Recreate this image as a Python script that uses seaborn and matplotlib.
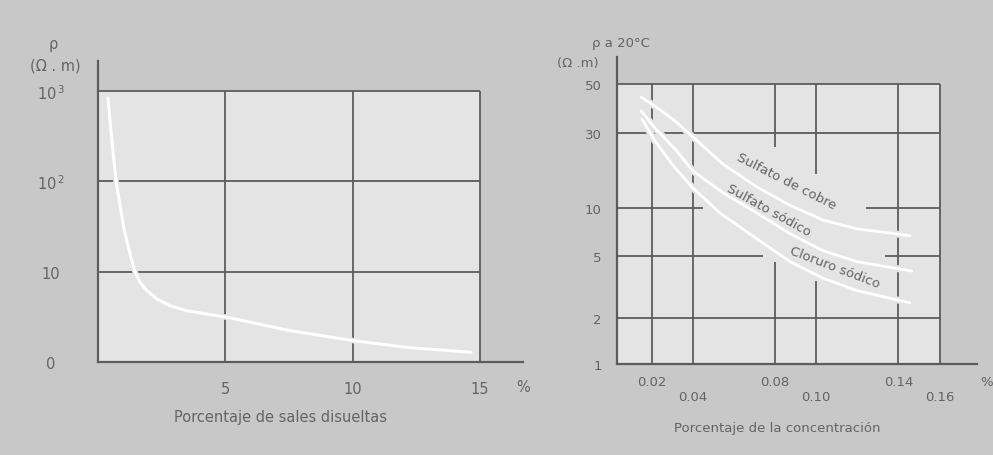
import numpy as np
import pandas as pd
import matplotlib
matplotlib.use("Agg")
import matplotlib.pyplot as plt
import matplotlib.patheffects as pe
from matplotlib.patches import Rectangle
from matplotlib.ticker import NullLocator
import seaborn as sns

# ---------------- data ----------------
left_pct = [0.39, 0.54, 0.71, 1.02, 1.26, 1.45, 1.65, 1.91, 2.31, 2.83, 3.48, 4.27, 5.06,
            7.56, 10.05, 12.15, 14.65]
left_rho = [835, 295, 100, 29.7, 15.7, 10, 7.6, 6.2, 5.0, 4.2, 3.7, 3.4, 3.13,
            2.22, 1.72, 1.45, 1.28]
left_xticks = [5, 10, 15]
left_xticklabels = ["5", "10", "15"]
left_yticks = [1, 10, 100, 1000]
left_yticklabels = ["0", "10", "$10^{\\,2}$", "$10^{\\,3}$"]

salts = ["Sulfato de cobre", "Sulfato sódico", "Cloruro sódico"]
conc_cobre = [0.0148, 0.0216, 0.0314, 0.0411, 0.0547, 0.0712, 0.0873, 0.1033, 0.1198, 0.1456]
rho_cobre = [43.6, 39.7, 34.0, 27.5, 19.0, 13.6, 10.4, 8.4, 7.4, 6.7]
conc_sulfato = [0.0148, 0.0216, 0.0314, 0.0401, 0.0547, 0.0712, 0.0873, 0.1033, 0.1198, 0.1466]
rho_sulfato = [37.8, 31.6, 23.7, 17.2, 12.5, 9.3, 6.9, 5.4, 4.6, 4.0]
conc_cloruro = [0.0153, 0.0216, 0.0299, 0.0396, 0.0532, 0.0712, 0.0873, 0.1033, 0.1198, 0.1456]
rho_cloruro = [34.7, 26.7, 19.0, 13.6, 9.3, 6.4, 4.6, 3.6, 3.0, 2.5]
right_xticks = [0.02, 0.04, 0.08, 0.10, 0.14, 0.16]
right_xticklabels = ["0.02", "\n0.04", "0.08", "\n0.10", "0.14", "\n0.16"]
right_yticks = [1, 2, 5, 10, 30, 50]
right_yticklabels = ["1", "2", "5", "10", "30", "50"]

# ---------------- style ----------------
sns.set_theme(style="white")
plt.rcParams["font.family"] = ["DejaVu Sans"]
BG = "#c8c8c8"
PANEL = "#e4e4e4"
LINE = "#5c5c5c"
TXT = "#646464"

W, H = 993, 456
fig = plt.figure(figsize=(W / 100, H / 100), dpi=100, facecolor=BG)


def px_axes(x0, y0, x1, y1):
    return fig.add_axes([x0 / W, 1 - y1 / H, (x1 - x0) / W, (y1 - y0) / H])


def ftext(x, y, s, **kw):
    fig.text(x / W, 1 - y / H, s, color=TXT, ha="center", va="center", **kw)


halo = [pe.Stroke(linewidth=5, foreground=PANEL), pe.Normal()]

# ---------------- left chart ----------------
axL = px_axes(98, 62, 523, 363)
axL.set_facecolor("none")
axL.set_yscale("log")
axL.set_xlim(0, 16.69)
axL.set_ylim(1, 10 ** ((363 - 62) / 90.3))
axL.add_patch(Rectangle((0, 1), 15, 999, facecolor=PANEL, edgecolor="none", zorder=0))
axL.hlines([10, 100, 1000], 0, 15, color=LINE, lw=1.3, zorder=1)
axL.vlines([5, 10, 15], 1, 1000, color=LINE, lw=1.3, zorder=1)

dfL = pd.DataFrame({"pct": left_pct, "rho": left_rho})
sns.lineplot(data=dfL, x="pct", y="rho", ax=axL, color="white", lw=2.2, zorder=3,
             solid_joinstyle="round", solid_capstyle="round")
axL.lines[-1].set_path_effects([pe.Stroke(linewidth=4, foreground=PANEL), pe.Normal()])

axL.set_xticks(left_xticks)
axL.set_xticklabels(left_xticklabels)
axL.set_yticks(left_yticks)
axL.set_yticklabels(left_yticklabels)
axL.yaxis.set_minor_locator(NullLocator())
axL.tick_params(axis="both", length=0, colors=TXT, labelsize=10.5)
axL.tick_params(axis="y", pad=34)
axL.tick_params(axis="x", pad=14)
for lbl in axL.get_yticklabels():
    lbl.set_ha("center")
axL.set_xlabel("")
axL.set_ylabel("")
for s in ["top", "right"]:
    axL.spines[s].set_visible(False)
for s in ["left", "bottom"]:
    axL.spines[s].set_color(LINE)
    axL.spines[s].set_linewidth(1.6)

ftext(53, 44, "ρ", fontsize=10.5)
ftext(55, 66, "(Ω . m)", fontsize=10.5)
ftext(523, 388, "%", fontsize=10.5)
ftext(280, 418, "Porcentaje de sales disueltas", fontsize=10.5)

# ---------------- right chart ----------------
L = np.array([0.0, np.log10(2), np.log10(5), 1.0, np.log10(30), np.log10(50)])
P = np.array([0.0, 46.0, 108.0, 156.0, 231.0, 280.0])


def _interp_ext(v, xs, ys):
    v = np.asarray(v, dtype=float)
    out = np.interp(v, xs, ys)
    hi = v > xs[-1]
    lo = v < xs[0]
    out = np.where(hi, ys[-1] + (v - xs[-1]) * (ys[-1] - ys[-2]) / (xs[-1] - xs[-2]), out)
    out = np.where(lo, ys[0] + (v - xs[0]) * (ys[1] - ys[0]) / (xs[1] - xs[0]), out)
    return out


def fwd(v):
    return _interp_ext(np.log10(np.clip(v, 1e-6, None)), L, P)


def inv(p):
    return 10 ** _interp_ext(p, P, L)


axR = px_axes(617, 58, 977, 365)
axR.set_facecolor("none")
axR.set_yscale("function", functions=(fwd, inv))
x0 = (617 - 610.5) / 2057
axR.set_xlim(x0, (977 - 610.5) / 2057)
axR.set_ylim(1, float(inv(307.0)))
axR.add_patch(Rectangle((x0, 1), 0.16 - x0, 49, facecolor=PANEL, edgecolor="none", zorder=0))

gkw = dict(color=LINE, lw=1.3, zorder=1)
axR.hlines([2, 30, 50], x0, 0.16, **gkw)
axR.hlines([10, 10], [x0, 0.1242], [0.045, 0.16], **gkw)
axR.hlines([5, 5], [x0, 0.1334], [0.0741, 0.16], **gkw)
axR.vlines([0.02, 0.04, 0.14, 0.16], 1, 50, **gkw)
axR.vlines([0.08, 0.08], [1, 24.4], [4.6, 50], **gkw)
axR.vlines([0.10, 0.10], [1, 16.4], [3.46, 50], **gkw)

dfR = pd.DataFrame({
    "conc": conc_cobre + conc_sulfato + conc_cloruro,
    "rho": rho_cobre + rho_sulfato + rho_cloruro,
    "sal": [salts[0]] * len(conc_cobre) + [salts[1]] * len(conc_sulfato) + [salts[2]] * len(conc_cloruro),
})
sns.lineplot(data=dfR, x="conc", y="rho", hue="sal", palette=["white"] * 3,
             ax=axR, lw=2.0, legend=False, zorder=3,
             solid_joinstyle="round", solid_capstyle="round")
for ln in axR.lines:
    ln.set_path_effects(halo)

lab_kw = dict(color=TXT, fontsize=9.5, ha="center", va="center", rotation_mode="anchor", zorder=4)
axR.text(0.0853, 14.9, salts[0], rotation=-27, **lab_kw)
axR.text(0.0770, 9.7, salts[1], rotation=-29, **lab_kw)
axR.text(0.1091, 4.25, salts[2], rotation=-21, **lab_kw)

axR.set_xticks(right_xticks)
axR.set_xticklabels(right_xticklabels)
axR.set_yticks(right_yticks)
axR.set_yticklabels(right_yticklabels)
axR.yaxis.set_minor_locator(NullLocator())
axR.tick_params(axis="both", length=0, colors=TXT, labelsize=9.5)
axR.tick_params(axis="y", pad=11)
axR.tick_params(axis="x", pad=8)
axR.set_xlabel("")
axR.set_ylabel("")
for s in ["top", "right"]:
    axR.spines[s].set_visible(False)
for s in ["left", "bottom"]:
    axR.spines[s].set_color(LINE)
    axR.spines[s].set_linewidth(1.6)

ftext(621, 43, "ρ a 20°C", fontsize=9.5)
ftext(578, 63, "(Ω .m)", fontsize=9.5)
ftext(987, 383, "%", fontsize=9.5)
ftext(777, 429, "Porcentaje de la concentración", fontsize=9.5)

fig.savefig("out.png", dpi=100, facecolor=BG)
